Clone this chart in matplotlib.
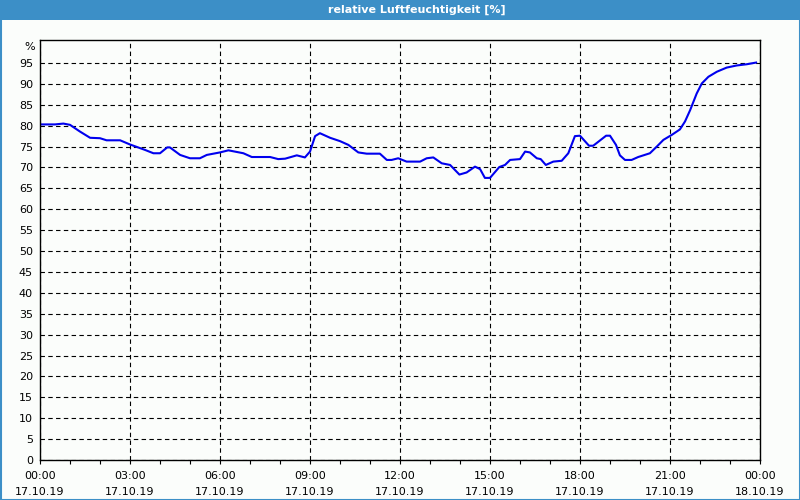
import matplotlib
matplotlib.use("Agg")
import matplotlib.pyplot as plt
from matplotlib.patches import Rectangle

# data (hours since 17.10.19 00:00, relative humidity %)
hours = [0.03, 0.5, 0.78, 1.0, 1.33, 1.67, 2.0, 2.22, 2.67, 3.0, 3.5, 3.78, 4.0, 4.24, 4.33,
         4.67, 5.0, 5.33, 5.56, 6.0, 6.28, 6.78, 7.06, 7.67, 7.94, 8.17, 8.56, 8.83, 9.0,
         9.17, 9.33, 9.67, 10.0, 10.28, 10.61, 10.89, 11.33, 11.56, 11.72, 11.94, 12.22,
         12.67, 12.89, 13.11, 13.39, 13.67, 13.98, 14.22, 14.5, 14.67, 14.83, 15.0, 15.31,
         15.5, 15.67, 16.0, 16.17, 16.33, 16.56, 16.69, 16.86, 17.11, 17.39, 17.61, 17.83,
         18.0, 18.3, 18.44, 18.87, 19.0, 19.2, 19.33, 19.5, 19.72, 19.94, 20.33, 20.56,
         20.78, 21.06, 21.33, 21.5, 21.67, 21.89, 22.06, 22.28, 22.56, 22.89, 23.22, 23.56,
         23.87]
humidity = [80.3, 80.3, 80.5, 80.2, 78.6, 77.1, 77.0, 76.5, 76.5, 75.5, 74.2, 73.4, 73.4, 74.8, 74.8,
            73.0, 72.2, 72.2, 73.0, 73.6, 74.1, 73.4, 72.5, 72.5, 72.0, 72.1, 72.9, 72.4, 73.8,
            77.5, 78.2, 77.1, 76.3, 75.4, 73.6, 73.3, 73.3, 71.8, 71.8, 72.2, 71.4,
            71.4, 72.2, 72.4, 71.0, 70.6, 68.3, 68.8, 70.2, 69.6, 67.5, 67.5, 70.1,
            70.6, 71.8, 72.0, 73.8, 73.6, 72.2, 72.0, 70.6, 71.4, 71.6, 73.4, 77.5,
            77.6, 75.2, 75.2, 77.6, 77.6, 75.4, 72.9, 71.8, 71.8, 72.5, 73.4, 75.0,
            76.6, 77.8, 79.1, 81.0, 83.7, 87.7, 90.1, 91.7, 92.9, 93.9, 94.4, 94.7,
            95.1]

xtick_pos = [0, 3, 6, 9, 12, 15, 18, 21, 24]
xtick_labels = ["00:00\n17.10.19", "03:00\n17.10.19", "06:00\n17.10.19", "09:00\n17.10.19",
                "12:00\n17.10.19", "15:00\n17.10.19", "18:00\n17.10.19", "21:00\n17.10.19",
                "00:00\n18.10.19"]
ytick_pos = list(range(0, 100, 5))
ytick_labels = [str(v) for v in ytick_pos]

title = "relative Luftfeuchtigkeit [%]"

bg = "#fbfdfb"
bar_color = "#3c8fc7"

fig = plt.figure(figsize=(8, 5), dpi=100, facecolor=bg)
ax = fig.add_axes([40/800, 40/500, 720/800, 420/500])
ax.set_facecolor(bg)

ax.plot(hours, humidity, color="#0000ee", linewidth=1.5, solid_joinstyle="round")

ax.set_xlim(0, 24)
ax.set_ylim(0, 100.5)

ax.set_xticks(xtick_pos)
ax.set_xticklabels(xtick_labels, fontsize=8, linespacing=1.75)
ax.set_xticks(range(0, 25), minor=True)
ax.tick_params(axis="x", which="both", direction="out", length=3, width=0.8, pad=5, colors="black")
ax.set_yticks(ytick_pos)
ax.set_yticklabels(ytick_labels, fontsize=8)
ax.tick_params(axis="y", length=0, pad=5)

ax.grid(True, which="major", color="black", linestyle=(0, (4, 3)), linewidth=0.8)
for s in ax.spines.values():
    s.set_color("black")
    s.set_linewidth(1.0)

ax.text(-5/720, 98.8, "%", transform=ax.get_yaxis_transform(), ha="right", va="center", fontsize=8)

# title bar and border
fig.patches.append(Rectangle((0, 480/500), 1, 20/500, transform=fig.transFigure,
                             facecolor=bar_color, edgecolor="none", zorder=-1))
fig.patches.append(Rectangle((0.5/800, 0.5/500), 799/800, 499/500, transform=fig.transFigure,
                             facecolor="none", edgecolor=bar_color, linewidth=1.5, zorder=5))
fig.text(417/800, 1 - 10/500, title, color="white", fontsize=8, fontweight="bold",
         ha="center", va="center")

fig.savefig("out.png", dpi=100, facecolor=bg)
